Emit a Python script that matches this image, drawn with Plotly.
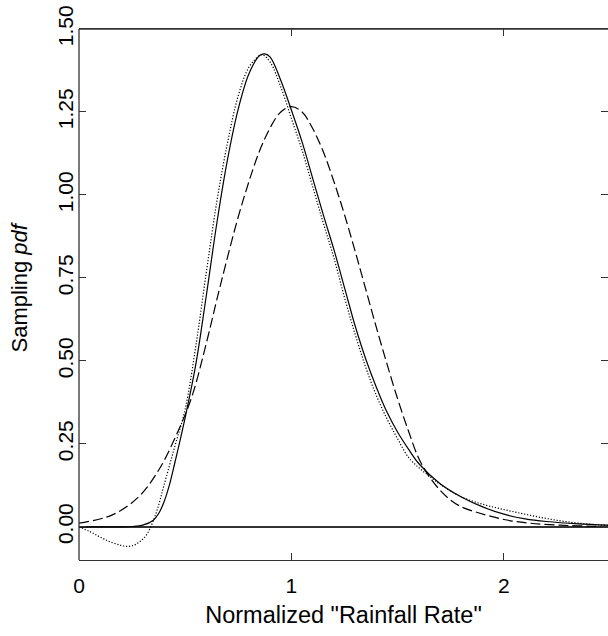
import plotly.graph_objects as go

# Solid curve
solid_x = [0, 0.1, 0.2, 0.25, 0.3, 0.35, 0.375, 0.4, 0.425, 0.45, 0.5, 0.55, 0.6, 0.65, 0.7,
           0.75, 0.8, 0.85, 0.875, 0.9, 0.95, 1.0, 1.05, 1.1, 1.15, 1.2, 1.25, 1.3, 1.35, 1.4,
           1.45, 1.5, 1.55, 1.6, 1.7, 1.8, 1.9, 2.0, 2.1, 2.2, 2.35, 2.5]
solid_y = [0, 0, 0, 0.001, 0.005, 0.02, 0.04, 0.075, 0.125, 0.19, 0.33, 0.49, 0.70, 0.92, 1.11,
           1.26, 1.365, 1.42, 1.425, 1.415, 1.345, 1.255, 1.16, 1.05, 0.94, 0.835, 0.72, 0.605,
           0.505, 0.42, 0.345, 0.285, 0.235, 0.19, 0.13, 0.09, 0.06, 0.038, 0.024, 0.016, 0.009,
           0.005]

# Dotted curve
dot_x = [0, 0.05, 0.1, 0.15, 0.2, 0.23, 0.26, 0.29, 0.32, 0.345, 0.37, 0.4, 0.45, 0.5, 0.55,
         0.6, 0.65, 0.7, 0.75, 0.8, 0.85, 0.865, 0.9, 0.95, 1.0, 1.05, 1.1, 1.15, 1.2, 1.25,
         1.3, 1.35, 1.4, 1.45, 1.5, 1.55, 1.6, 1.65, 1.7, 1.8, 1.9, 2.0, 2.1, 2.2, 2.3, 2.4, 2.5]
dot_y = [0, -0.014, -0.031, -0.046, -0.056, -0.059, -0.055, -0.043, -0.022, 0.011, 0.055,
         0.125, 0.24, 0.355, 0.545, 0.77, 0.985, 1.16, 1.30, 1.385, 1.42, 1.422, 1.40, 1.325,
         1.23, 1.135, 1.025, 0.915, 0.81, 0.69, 0.58, 0.48, 0.395, 0.325, 0.265, 0.21, 0.178,
         0.152, 0.128, 0.09, 0.068, 0.052, 0.038, 0.025, 0.015, 0.008, 0.004]

# Dashed curve
dash_x = [0, 0.157, 0.282, 0.376, 0.455, 0.53, 0.6, 0.664, 0.773, 0.872, 0.95, 1.0, 1.05,
          1.1, 1.15, 1.2, 1.25, 1.3, 1.35, 1.4, 1.45, 1.5, 1.55, 1.6, 1.65, 1.7, 1.75, 1.8,
          1.887, 2.0, 2.122, 2.3, 2.5]
dash_y = [0.011, 0.036, 0.091, 0.172, 0.272, 0.39, 0.555, 0.724, 0.985, 1.166, 1.25, 1.266,
          1.25, 1.2, 1.13, 1.04, 0.94, 0.83, 0.715, 0.6, 0.49, 0.385, 0.29, 0.205, 0.15, 0.11,
          0.08, 0.06, 0.041, 0.022, 0.011, 0.004, 0.001]

y_ticks = [0, 0.25, 0.5, 0.75, 1.0, 1.25, 1.5]
y_tick_labels = ["0.00", "0.25", "0.50", "0.75", "1.00", "1.25", "1.50"]
x_ticks = [0, 1, 2]
x_tick_labels = ["0", "1", "2"]

FONT = "Liberation Sans, Arial, Helvetica, sans-serif"
AX = "#333333"

fig = go.Figure()
fig.add_trace(go.Scatter(x=solid_x, y=solid_y, mode="lines",
                         line=dict(color="black", width=1.2, shape="spline", smoothing=1.0)))
fig.add_trace(go.Scatter(x=dot_x, y=dot_y, mode="lines",
                         line=dict(color="black", width=1.2, dash="1.2px,1.8px",
                                   shape="spline", smoothing=1.0)))
fig.add_trace(go.Scatter(x=dash_x, y=dash_y, mode="lines",
                         line=dict(color="black", width=1.2, dash="10px,4px",
                                   shape="spline", smoothing=1.0)))

fig.update_layout(
    width=608, height=636,
    margin=dict(l=79, r=0, t=29, b=76),
    paper_bgcolor="white", plot_bgcolor="white",
    showlegend=False,
    font=dict(family=FONT, size=21, color="black"),
    xaxis=dict(range=[0, 2.49], tickvals=x_ticks, ticktext=x_tick_labels,
               ticks="inside", ticklen=7, tickwidth=1, tickcolor=AX,
               showline=True, linecolor=AX, linewidth=1.3, mirror="ticks",
               showgrid=False, zeroline=False, ticklabelstandoff=7,
               ticklabeloverflow="allow",
               title=dict(text='Normalized "Rainfall Rate"', standoff=10,
                          font=dict(size=23.5))),
    yaxis=dict(range=[-0.1, 1.5], tickvals=y_ticks, ticktext=y_tick_labels,
               ticks="inside", ticklen=7, tickwidth=1, tickcolor=AX, tickangle=-90,
               showline=False, mirror="ticks",
               showgrid=False, zeroline=True, zerolinecolor=AX, zerolinewidth=1.5,
               ticklabelstandoff=1, ticklabeloverflow="allow"),
    shapes=[dict(type="line", xref="paper", yref="paper", x0=0, x1=1, y0=1, y1=1,
                 line=dict(color=AX, width=1.3)),
            dict(type="line", xref="paper", yref="paper", x0=0, x1=0, y0=0, y1=1,
                 line=dict(color=AX, width=1.3))],
    annotations=[dict(text="Sampling <i>pdf</i>", xref="paper", yref="paper",
                      x=0, y=0.5, xanchor="center", yanchor="middle",
                      xshift=-60, yshift=7, textangle=-90, showarrow=False,
                      font=dict(size=22))],
)

fig.write_html("out.html", config={"displayModeBar": False},
               post_script="document.body.style.margin='0px';document.body.style.overflow='hidden';")
